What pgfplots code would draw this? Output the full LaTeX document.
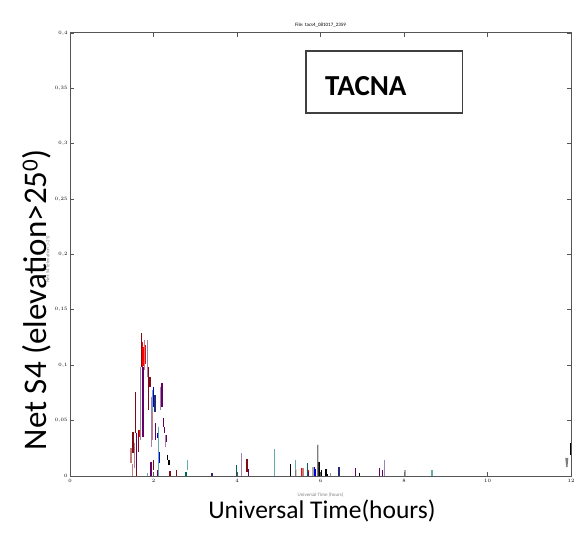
\documentclass[border=0pt]{standalone}
\usepackage{pgfplots}
\pgfplotsset{compat=1.18}
\usepackage{fontspec}
\setmainfont{Carlito}
\definecolor{cred}{RGB}{255,0,0}
\definecolor{cmaroon}{RGB}{130,10,20}
\definecolor{crosy}{RGB}{195,125,125}
\definecolor{cpurple}{RGB}{100,0,100}
\definecolor{clpurple}{RGB}{160,130,175}
\definecolor{ccadet}{RGB}{100,172,172}
\definecolor{cdteal}{RGB}{0,100,90}
\definecolor{cblue}{RGB}{0,0,215}
\definecolor{cnavy}{RGB}{40,40,120}
\definecolor{cgray}{RGB}{125,125,125}
\definecolor{caxis}{RGB}{85,85,85}
\begin{document}
\begin{tikzpicture}
\useasboundingbox (-70pt,-64pt) rectangle (507pt,476pt);
\begin{axis}[
  scale only axis, width=501pt, height=443pt,
  xmin=0, xmax=12, ymin=0, ymax=0.4,
  xtick={0,2,4,6,8,10,12},
  ytick={0,0.05,0.1,0.15,0.2,0.25,0.3,0.35,0.4},
  scaled y ticks=false,
  yticklabel style={/pgf/number format/fixed, /pgf/number format/precision=2, /pgf/number format/use comma, xshift=1pt},
  tick align=inside, major tick length=4pt,
  axis line style={caxis, line width=1pt},
  every tick/.style={caxis, line width=0.8pt},
  tick label style={font=\fontsize{5.5}{6}\selectfont},
  title={File: tacs4\_081017\_2359},
  title style={font=\fontsize{5}{6}\selectfont, yshift=-4pt},
  unbounded coords=jump,
  clip=false,
  every axis plot/.append style={line width=1.3pt},
]
% red
\addplot[cred] coordinates {(1.653,0.0416) (1.653,0.0352) (nan,nan)
 (1.728,0.1210) (1.728,0.0985) (nan,nan) (1.762,0.1165) (1.762,0.0990) (nan,nan)
 (1.792,0.1170) (1.792,0.1000) (nan,nan) (1.815,0.1180) (1.815,0.1010) (nan,nan)
 (5.560,0.0072) (5.560,0) (nan,nan) (5.705,0.0050) (5.705,0)};
% maroon
\addplot[cmaroon] coordinates {(1.509,0.0397) (1.509,0.0208) (nan,nan)
 (1.564,0.0759) (1.564,0.0389) (nan,nan) (1.646,0.0416) (1.646,0.0217) (nan,nan)
 (1.708,0.1290) (1.708,0.0985) (nan,nan) (1.885,0.0985) (1.885,0.0596) (nan,nan)
 (1.916,0.0894) (1.916,0.0804) (nan,nan) (2.005,0.0145) (2.005,0.0054) (nan,nan)
 (1.598,0.0145) (1.598,0) (nan,nan) (2.395,0.0045) (2.395,0) (nan,nan)
 (2.556,0.0054) (2.556,0) (nan,nan) (4.240,0.0154) (4.240,0.0036)};
% rosy brown
\addplot[crosy] coordinates {(1.461,0.0253) (1.461,0.0117) (nan,nan)
 (1.550,0.0298) (1.550,0.0072) (nan,nan) (1.492,0.0108) (1.492,0) (nan,nan)
 (1.780,0.1230) (1.780,0.0958) (nan,nan) (1.981,0.0687) (1.981,0.0325) (nan,nan)
 (5.580,0.0072) (5.580,0)};
% dark purple
\addplot[cpurple] coordinates {(1.598,0.0388) (1.598,0.0054) (nan,nan)
 (1.749,0.0985) (1.749,0.0352) (nan,nan) (2.043,0.0479) (2.043,0.0325) (nan,nan)
 (1.940,0.0126) (1.940,0) (nan,nan) (2.204,0.0840) (2.204,0.0623) (nan,nan)
 (2.235,0.0524) (2.235,0.0443) (nan,nan) (2.259,0.0443) (2.259,0.0388) (nan,nan)
 (2.316,0.0370) (2.316,0.0307) (nan,nan) (2.101,0.0054) (2.101,0) (nan,nan)
 (4.271,0.0063) (4.271,0) (nan,nan) (6.843,0.0072) (6.843,0) (nan,nan)
 (7.408,0.0072) (7.408,0) (nan,nan) (7.488,0.0054) (7.488,0) (nan,nan)
 (5.720,0.0040) (5.720,0)};
% light purple
\addplot[clpurple] coordinates {(1.693,0.0985) (1.693,0.0325) (nan,nan)
 (1.851,0.1230) (1.851,0.0894) (nan,nan) (1.947,0.0714) (1.947,0.0262) (nan,nan)
 (2.172,0.0804) (2.172,0.0596) (nan,nan) (2.292,0.0370) (2.292,0.0262) (nan,nan)
 (4.113,0.0208) (4.113,0) (nan,nan) (7.528,0.0145) (7.528,0) (nan,nan)
 (6.244,0.0027) (6.244,0)};
% cadet
\addplot[ccadet] coordinates {(1.971,0.0777) (1.971,0.0578) (nan,nan)
 (2.125,0.0443) (2.125,0) (nan,nan) (2.810,0.0145) (2.810,0.0054) (nan,nan)
 (4.903,0.0244) (4.903,0) (nan,nan) (5.406,0.0145) (5.406,0.0060) (nan,nan)
 (8.671,0.0050) (8.671,0) (nan,nan) (1.861,0.0027) (1.861,0)};
% dark teal
\addplot[cdteal] coordinates {(2.778,0.0036) (2.778,0) (nan,nan)
 (3.983,0.0099) (3.983,0) (nan,nan) (5.684,0.0117) (5.684,0)};
% blue
\addplot[cblue] coordinates {(1.995,0.0804) (1.995,0.0623) (nan,nan)
 (2.101,0.0388) (2.101,0.0343) (nan,nan) (2.139,0.0217) (2.139,0.0117) (nan,nan)
 (5.850,0.0080) (5.850,0) (nan,nan) (5.885,0.0060) (5.885,0)};
% navy
\addplot[cnavy] coordinates {(2.036,0.0732) (2.036,0.0578) (nan,nan)
 (3.401,0.0027) (3.401,0) (nan,nan) (6.443,0.0081) (6.443,0)};
% black
\addplot[black] coordinates {(2.340,0.0190) (2.340,0.0145) (nan,nan)
 (2.371,0.0145) (2.371,0.0099) (nan,nan) (5.964,0.0126) (5.964,0) (nan,nan)
 (6.029,0.0054) (6.029,0) (nan,nan) (6.132,0.0063) (6.132,0) (nan,nan)
 (6.156,0.0020) (6.156,0) (nan,nan) (6.929,0.0030) (6.929,0) (nan,nan)
 (11.993,0.0300) (11.993,0.0190) (nan,nan) (5.277,0.0108) (5.277,0)};
% gray
\addplot[cgray] coordinates {(5.406,0.0060) (5.406,0) (nan,nan)
 (5.933,0.0280) (5.933,0) (nan,nan) (8.024,0.0054) (8.024,0) (nan,nan)
 (5.820,0.0080) (5.820,0) (nan,nan)
 (11.880,0.0163) (11.900,0.0080) (11.920,0.0163)};
% labels and annotation
\node[rotate=90, font=\fontsize{5}{6}\selectfont, gray] at (axis description cs:-0.044,0.49) {Net S4 (elevation$>$25)};
\node[font=\fontsize{5}{6}\selectfont, gray] at (axis description cs:0.5,-0.043) {Universal Time (hours)};
\node[rotate=90, font=\fontsize{33}{36}\selectfont] at (axis description cs:-0.066,0.398) {Net S4 (elevation>25\textsuperscript{0})};
\node[font=\fontsize{25.5}{28}\selectfont] at (axis description cs:0.503,-0.078) {Universal Time(hours)};
\draw[line width=1.4pt, black!75] (axis description cs:0.471,0.959) rectangle (axis description cs:0.784,0.819);
\node[anchor=west, inner sep=0pt, font=\bfseries\fontsize{29}{32}\selectfont] at (axis description cs:0.509,0.880) {TACNA};
\end{axis}
\end{tikzpicture}
\end{document}
